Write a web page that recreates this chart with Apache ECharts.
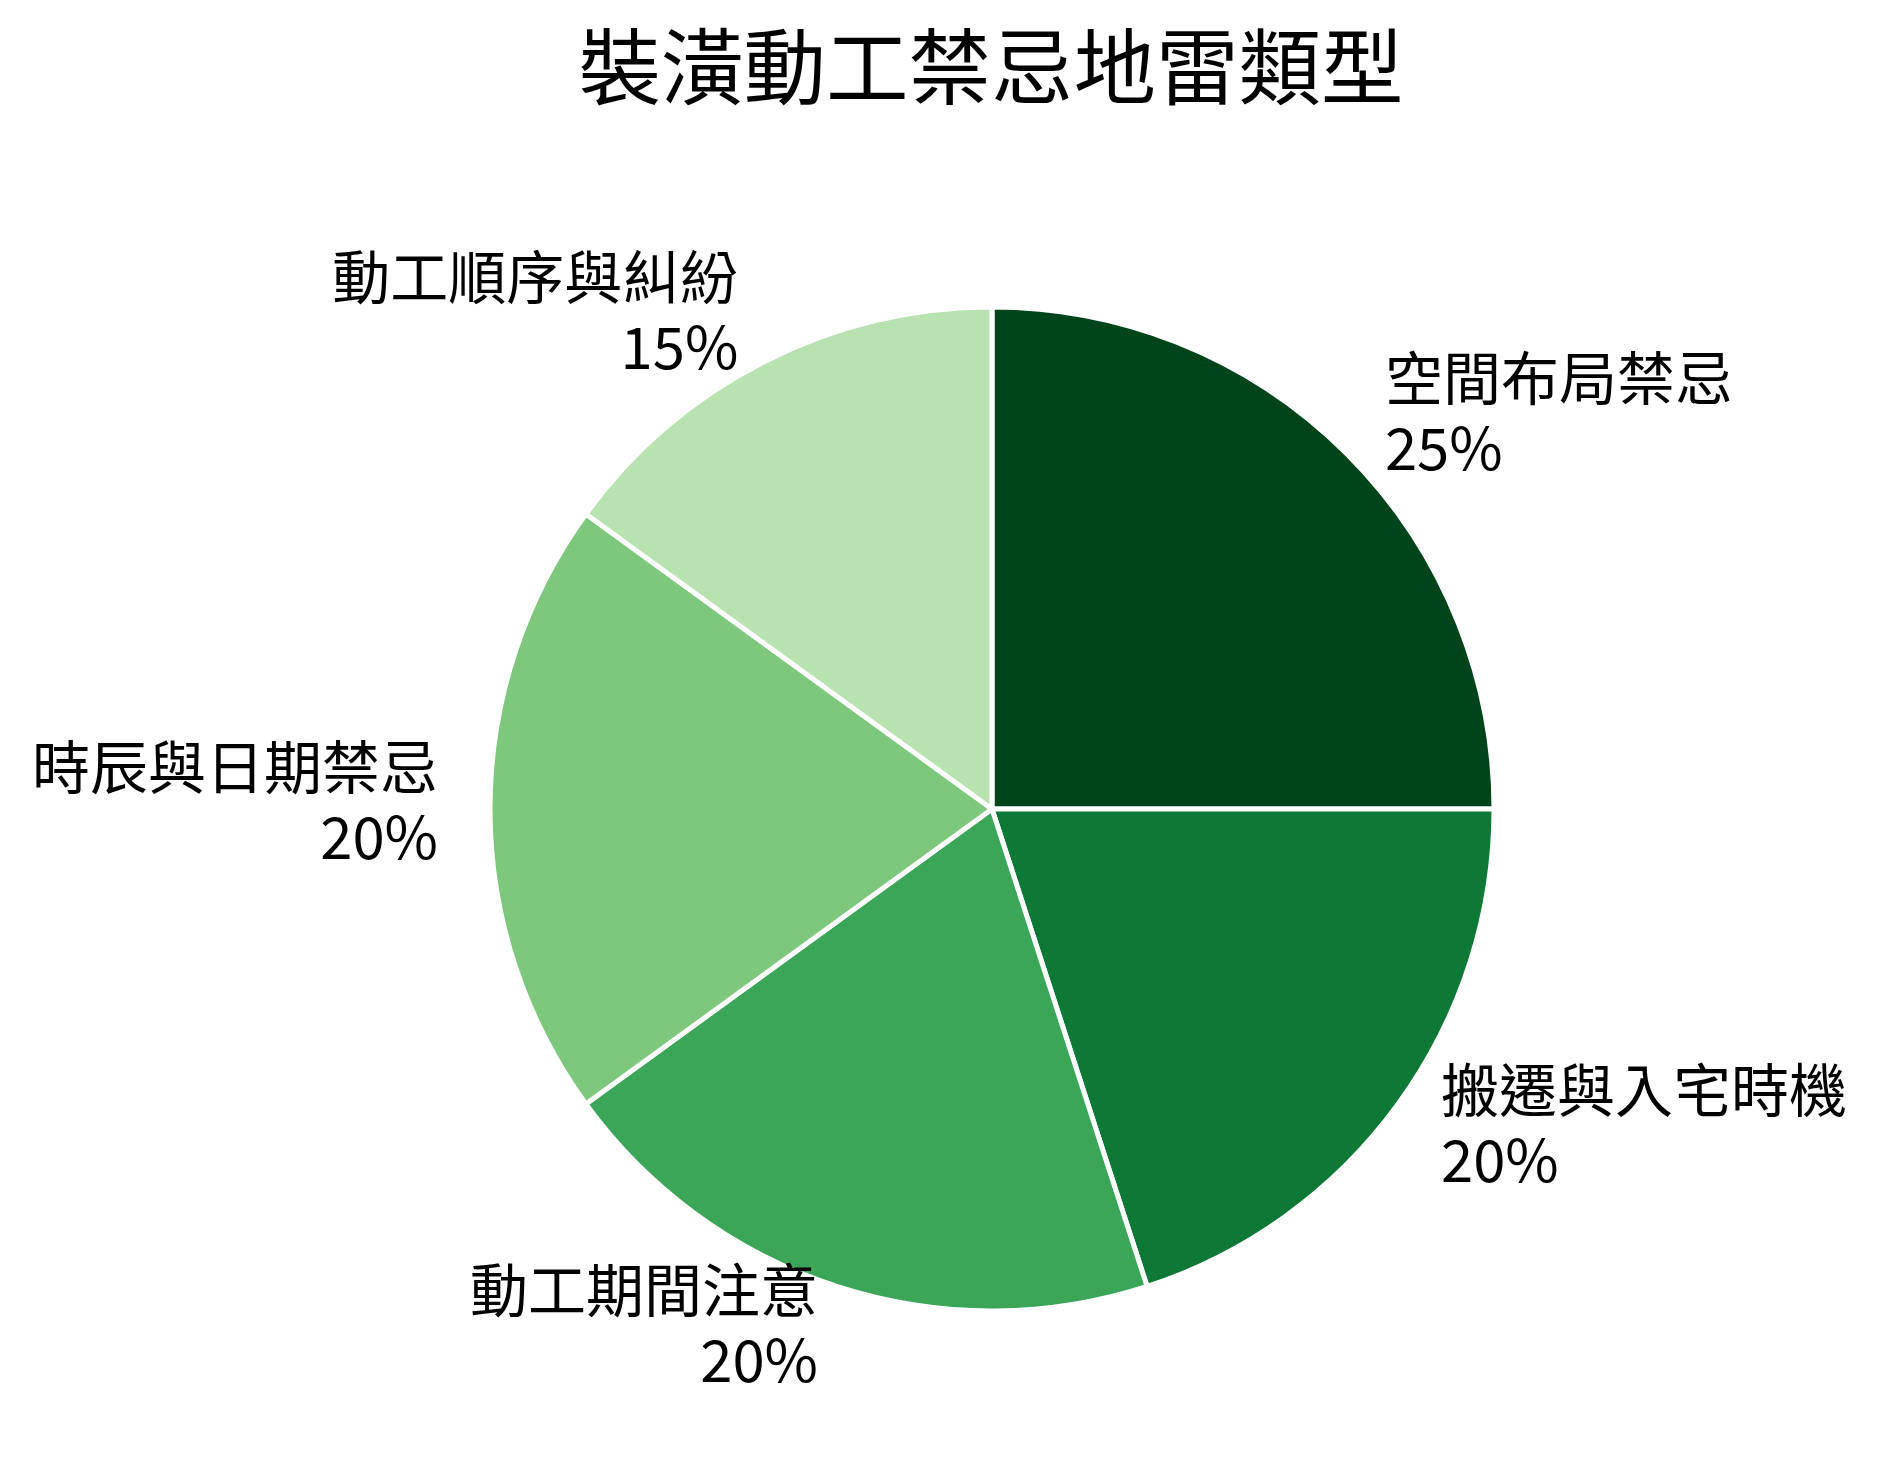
<!DOCTYPE html>
<html>
<head>
<meta charset="utf-8">
<script src="https://cdn.jsdelivr.net/npm/echarts@6/dist/echarts.min.js"></script>
<style>
html,body{margin:0;padding:0;background:#fff;}
#chart{width:1878px;height:1468px;}
</style>
</head>
<body>
<div id="chart"></div>
<script>
const titleText = '裝潢動工禁忌地雷類型';
const categories = ['空間布局禁忌', '搬遷與入宅時機', '動工期間注意', '時辰與日期禁忌', '動工順序與糾紛'];
const values = [25, 20, 20, 20, 15];
const colors = ['#00441b', '#0e7936', '#3ba558', '#7dc87d', '#b8e3b1'];

const FONT = '"Noto Sans CJK TC", "Noto Sans CJK SC", "Noto Sans", sans-serif';
const chart = echarts.init(document.getElementById('chart'), null, {renderer: 'canvas'});
const total = values.reduce((a, b) => a + b, 0);

chart.setOption({
  backgroundColor: '#ffffff',
  animation: false,
  title: {
    text: titleText,
    left: 986,
    top: 20,
    textAlign: 'center',
    textStyle: {fontFamily: FONT, fontSize: 82.5, fontWeight: 'normal', color: '#000'}
  },
  series: [{
    type: 'pie',
    center: [992, 809],
    radius: 502,
    startAngle: 90,
    clockwise: true,
    avoidLabelOverlap: false,
    data: categories.map((c, i) => ({name: c, value: values[i], itemStyle: {color: colors[i]}})),
    itemStyle: {borderColor: '#ffffff', borderWidth: 5},
    label: {
      show: true,
      position: 'outside',
      formatter: p => p.name + '\n' + Math.round(p.value / total * 100) + '%',
      fontFamily: FONT,
      fontSize: 58,
      lineHeight: 70,
      color: '#000',
      distanceToLabelLine: 4
    },
    labelLine: {show: false, length: 48, length2: 0},
    labelLayout: () => ({dy: -7}),
    emphasis: {disabled: true}
  }]
});
</script>
</body>
</html>
